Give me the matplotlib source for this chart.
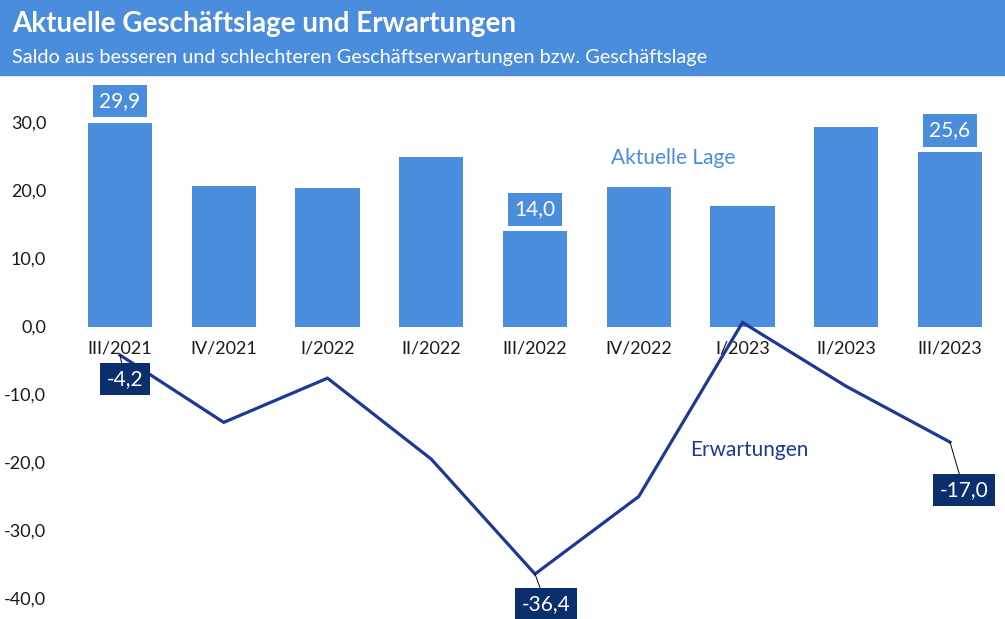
import matplotlib
matplotlib.use("Agg")
import matplotlib.pyplot as plt
from matplotlib.patches import Rectangle

# data
quartale = ["III/2021", "IV/2021", "I/2022", "II/2022", "III/2022",
            "IV/2022", "I/2023", "II/2023", "III/2023"]
lage = [29.9, 20.7, 20.4, 25.0, 14.0, 20.5, 17.7, 29.4, 25.6]
erwartungen = [-4.2, -14.1, -7.6, -19.5, -36.4, -25.0, 0.6, -8.8, -17.0]
yticks = [30, 20, 10, 0, -10, -20, -30, -40]

# which points get a value box, and where the box centre sits (pixel offsets)
lage_labels = {0: (0, 22), 4: (0, 22), 8: (0, 22)}
erw_labels = {0: (5, -24), 4: (11, -30), 8: (14, -48)}

blau = "#4a8ddc"
dunkelblau = "#1b3a96"
navy = "#0b2f6d"

plt.rcParams["font.family"] = ["Lato", "DejaVu Sans"]

W, H = 1005, 619
fig = plt.figure(figsize=(W / 100, H / 100), dpi=100)

# header band
band_h = 75
fig.patches.append(Rectangle((0, 1 - band_h / H), 1, band_h / H,
                             transform=fig.transFigure, color=blau, zorder=0))
fig.text(12 / W, 1 - 32 / H, "Aktuelle Geschäftslage und Erwartungen",
         color="white", fontsize=20, fontweight="bold", va="baseline")
fig.text(12 / W, 1 - 63 / H,
         "Saldo aus besseren und schlechteren Geschäftserwartungen bzw. Geschäftslage",
         color="white", fontsize=14.3, va="baseline")

ax_top, ax_bot, ax_left = 85, 612, 60
ax = fig.add_axes([ax_left / W, (H - ax_bot) / H, 1 - ax_left / W,
                   (ax_bot - ax_top) / H])

x = list(range(len(quartale)))
ax.bar(x, lage, width=0.62, color=blau, zorder=1)
ax.plot(x, erwartungen, color=dunkelblau, lw=2.3, zorder=3,
        solid_joinstyle="miter")

# y scale: zero at ~326.5 px, 6.8 px per unit
step = 103.75
ax.set_xlim((ax_left - 120) / step, (W - 120) / step)
ax.set_ylim(-(ax_bot - 326.5) / 6.8, (326.5 - ax_top) / 6.8)

ax.set_yticks(yticks)
ax.set_yticklabels([f"{v:.1f}".replace(".", ",") for v in yticks])
ax.set_xticks(x)
ax.set_xticklabels(quartale)
ax.spines["bottom"].set_position(("data", 0))
for s in ax.spines.values():
    s.set_visible(False)
ax.tick_params(axis="y", length=0, pad=10, labelsize=13, labelcolor="#1a1a1a")
ax.tick_params(axis="x", length=0, pad=10, labelsize=13, labelcolor="#1a1a1a")
ax.set_axisbelow(True)
ax.patch.set_visible(False)

for i, off in lage_labels.items():
    ax.annotate(f"{lage[i]:.1f}".replace(".", ","), (x[i], lage[i]),
                xytext=off, textcoords="offset pixels", ha="center",
                va="center", color="white", fontsize=15, zorder=5,
                bbox=dict(boxstyle="square,pad=0.3", fc=blau, ec="none"))

for i, off in erw_labels.items():
    ax.annotate(f"{erwartungen[i]:.1f}".replace(".", ","), (x[i], erwartungen[i]),
                xytext=off, textcoords="offset pixels", ha="center",
                va="center", color="white", fontsize=15, zorder=5,
                bbox=dict(boxstyle="square,pad=0.3", fc=navy, ec="none"),
                arrowprops=dict(arrowstyle="-", color="black", lw=0.7,
                                shrinkA=0, shrinkB=0))

ax.text(5.33, 24.8, "Aktuelle Lage", color=blau, fontsize=15,
        ha="center", va="center")
ax.text(6.07, -18.2, "Erwartungen", color=dunkelblau, fontsize=15,
        ha="center", va="center")

fig.savefig("out.png", dpi=100)
